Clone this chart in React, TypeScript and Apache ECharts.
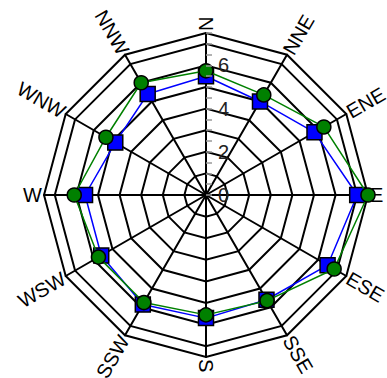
import React, { useEffect, useRef } from "react";
import * as echarts from "echarts";

const directions = ["N", "NNE", "ENE", "E", "ESE", "SSE", "S", "SSW", "WSW", "W", "WNW", "NNW"];
const blueValues = [5.5, 5.0, 5.8, 7.0, 6.5, 5.6, 5.7, 5.85, 5.6, 5.6, 4.85, 5.4];
const greenValues = [5.75, 5.35, 6.3, 7.5, 6.85, 5.65, 5.55, 5.75, 5.75, 6.1, 5.35, 6.0];
const tickLabels = ["0", "2", "4", "6"];

const RING_MAX = 7;
const OUTER_MAX = 7.5;

export default function App() {
  const ref = useRef<HTMLDivElement>(null);
  useEffect(() => {
    if (!ref.current) return;
    const chart = echarts.init(ref.current, undefined, { renderer: "svg" });
    const cx = 206;
    const cy = 195;
    const R = 162;
    const font = "Liberation Sans, Arial, sans-serif";
    // radar goes counter-clockwise from top; compass order is clockwise
    const order = directions.map((_, i) => (i === 0 ? 0 : directions.length - i));
    const indOuter = order.map((i) => ({ name: directions[i], min: 0, max: OUTER_MAX }));
    const indRing = order.map((i) => ({ name: directions[i], min: 0, max: RING_MAX }));
    const reorder = (arr: number[]) => order.map((i) => arr[i]);

    const labelR = 164;
    const graphics = directions.map((d, i) => {
      const theta = (i * 360) / directions.length;
      const t = (theta * Math.PI) / 180;
      const x = cx + labelR * Math.sin(t);
      const y = cy - labelR * Math.cos(t);
      const left = theta > 180 && theta < 360;
      const rotDeg = left ? 270 - theta : 90 - theta;
      return {
        type: "text",
        x,
        y,
        rotation: (rotDeg * Math.PI) / 180,
        silent: true,
        style: {
          text: d,
          fontSize: 20,
          fontFamily: font,
          fill: "#000",
          align: left ? "right" : "left",
          textAlign: left ? "right" : "left",
          verticalAlign: "middle",
          textVerticalAlign: "middle",
        },
      };
    });

    chart.setOption({
      animation: false,
      backgroundColor: "#fff",
      radar: [
        {
          center: [cx, cy],
          radius: R,
          startAngle: 90,
          shape: "polygon",
          splitNumber: 1,
          indicator: indOuter,
          axisName: { show: false },
          axisLine: { show: true, lineStyle: { color: "#000", width: 2 } },
          splitLine: { show: true, lineStyle: { color: "#000", width: 2 } },
          splitArea: { show: false },
          axisLabel: { show: false },
          axisTick: { show: false },
        },
        {
          center: [cx, cy],
          radius: (R * RING_MAX) / OUTER_MAX,
          startAngle: 90,
          shape: "polygon",
          splitNumber: RING_MAX,
          indicator: indRing,
          axisName: { show: false },
          axisLine: { show: false },
          splitLine: { show: true, lineStyle: { color: "#000", width: 2 } },
          splitArea: { show: false },
          axisLabel: { show: false },
          axisTick: { show: false },
        },
      ],
      polar: { center: [cx, cy], radius: R },
      angleAxis: {
        type: "value",
        min: 0,
        max: 360,
        startAngle: 90,
        show: false,
        axisLine: { show: false },
        splitLine: { show: false },
        axisTick: { show: false },
        axisLabel: { show: false },
      },
      radiusAxis: {
        type: "value",
        min: 0,
        max: OUTER_MAX,
        interval: 0.5,
        z: 10,
        axisLine: { show: false },
        splitLine: { show: false },
        axisTick: { show: true, length: -6, lineStyle: { color: "#999", width: 1.5 } },
        axisLabel: {
          show: true,
          margin: -12,
          align: "left",
          verticalAlign: "middle",
          fontSize: 20,
          fontFamily: font,
          color: "#222",
          formatter: (v: number) => (tickLabels.includes(String(v)) ? String(v) : ""),
        },
      },
      series: [
        {
          type: "radar",
          radarIndex: 0,
          z: 3,
          symbol: "rect",
          symbolSize: 15,
          lineStyle: { color: "#0000ff", width: 1.5 },
          itemStyle: { color: "#0000ff", borderColor: "#000", borderWidth: 1.5 },
          data: [{ value: reorder(blueValues), name: "blue" }],
        },
        {
          type: "radar",
          radarIndex: 0,
          z: 4,
          symbol: "circle",
          symbolSize: 14,
          lineStyle: { color: "#008000", width: 1.5 },
          itemStyle: { color: "#008000", borderColor: "#000", borderWidth: 1.5 },
          data: [{ value: reorder(greenValues), name: "green" }],
        },
      ],
      graphic: graphics,
    });
    return () => chart.dispose();
  }, []);
  return (
    <div
      ref={ref}
      style={{ position: "absolute", left: 0, top: 0, width: 387, height: 378 }}
    />
  );
}
